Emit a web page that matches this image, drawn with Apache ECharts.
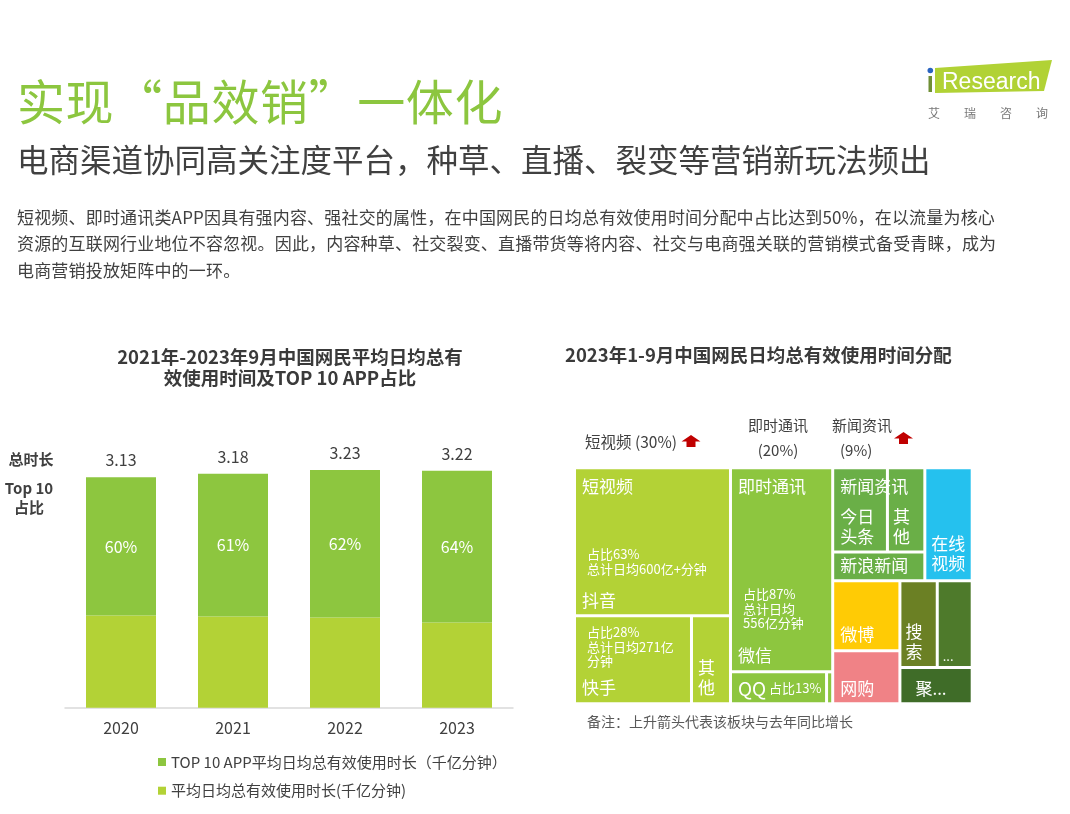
<!DOCTYPE html>
<html lang="zh-CN">
<head>
<meta charset="utf-8">
<script src="https://cdn.jsdelivr.net/npm/echarts@6/dist/echarts.min.js"></script>
<style>
html,body{margin:0;padding:0;background:#fff;width:1070px;height:814px;overflow:hidden;}
#chart{position:absolute;left:0;top:0;width:1070px;height:814px;}
.t{position:absolute;white-space:nowrap;font-family:"Noto Sans CJK SC","Noto Sans",sans-serif;z-index:2;}
.fw{font-feature-settings:"fwid";}
</style>
</head>
<body>
<div id="chart"></div>
<div class="t" style="left:17px;top:75px;font-size:48px;line-height:48px;letter-spacing:0.6px;color:#8cc63f;">实现<span class="fw">“</span>品效销<span class="fw">”</span>一体化</div>
<div class="t" style="left:17px;top:142.5px;font-size:31.5px;line-height:31.5px;color:#404040;">电商渠道协同高关注度平台，种草、直播、裂变等营销新玩法频出</div>
<div class="t" style="left:17px;top:203.5px;font-size:17px;line-height:26.7px;letter-spacing:0.18px;color:#404040;">短视频、即时通讯类APP因具有强内容、强社交的属性，在中国网民的日均总有效使用时间分配中占比达到50%，在以流量为核心<br>资源的互联网行业地位不容忽视。因此，内容种草、社交裂变、直播带货等将内容、社交与电商强关联的营销模式备受青睐，成为<br>电商营销投放矩阵中的一环。</div>
<script>
const FONT = '"Noto Sans CJK SC","Noto Sans",sans-serif';

// ---- bar chart data ----
const years = ['2020', '2021', '2022', '2023'];
const totalTime = [3.13, 3.18, 3.23, 3.22];      // 千亿分钟
const top10Share = [60, 61, 62, 64];              // %
const legendNames = ['TOP 10 APP平均日均总有效使用时长（千亿分钟）', '平均日均总有效使用时长(千亿分钟)'];

// ---- treemap data ----
const tmGroups = ['短视频', '即时通讯', '新闻资讯'];
const tmGroupShares = [30, 20, 9];
const leafNames = ['抖音', '快手', '其他', '微信', 'QQ', '其他', '今日头条', '其他', '新浪新闻', '在线视频', '微博', '网购', '搜索', '...', '聚...'];
const leafValues = [18.8, 8.4, 2.8, 17.0, 2.5, 0.16, 3.76, 2.57, 2.15, 4.36, 3.83, 2.91, 2.64, 2.47, 2.14];
const leafNotes = [
  ['占比63%', '总计日均600亿+分钟'],
  ['占比28%', '总计日均271亿', '分钟'],
  [],
  ['占比87%', '总计日均', '556亿分钟'],
  ['占比13%'],
  [], [], [], [], [], [], [], [], [], []
];
const footNote = '备注：上升箭头代表该板块与去年同比增长';

// ---- derived stack values ----
const top10Time = totalTime.map((v, i) => +(v * top10Share[i] / 100).toFixed(3));
const restTime = totalTime.map((v, i) => +(v - top10Time[i]).toFixed(3));

// ---- styles ----
const leafColors = ['#b3d236', '#b3d236', '#b3d236', '#8dc63f', '#8dc63f', '#8dc63f',
  '#6aaf47', '#6aaf47', '#6aaf47', '#25c1ee', '#ffcb05', '#f08286', '#6b8024', '#4e7a2b', '#3f6c28'];

const rich = {
  n: { fontSize: 17, lineHeight: 20, color: '#fff', fontFamily: FONT },
  s: { fontSize: 13, lineHeight: 14.5, color: '#fff', fontFamily: FONT, padding: [0, 0, 0, 5] },
  q: { fontSize: 19, lineHeight: 20, color: '#fff', fontFamily: FONT },
  t: { fontSize: 13, lineHeight: 20, color: '#fff', fontFamily: FONT },
  d: { fontSize: 13, lineHeight: 15, color: '#fff', fontFamily: FONT },
  g9: { fontSize: 8, lineHeight: 9 },
  g10: { fontSize: 8, lineHeight: 10.3 },
  g14: { fontSize: 8, lineHeight: 14 },
  g15: { fontSize: 8, lineHeight: 15.5 },
  g50: { fontSize: 8, lineHeight: 50.5 },
  g90: { fontSize: 8, lineHeight: 90.3 }
};
const chunk = (s, k) => s.match(new RegExp('.{1,' + k + '}', 'g'));
const nLines = arr => arr.map(x => '{n|' + x + '}').join('\n');
const sLines = arr => arr.map(x => '{s|' + x + '}').join('\n');

function labelFor(i) {
  const nm = leafNames[i], notes = leafNotes[i];
  let txt, pad;
  switch (i) {
    case 0: txt = '{n|' + tmGroups[0] + '}\n{g50| }\n' + sLines(notes) + '\n{g14| }\n{n|' + nm + '}'; pad = [7.4, 2, 0, 6]; break;
    case 1: txt = sLines(notes) + '\n{g9| }\n{n|' + nm + '}'; pad = [7.75, 2, 0, 6]; break;
    case 2: txt = nLines(chunk(nm, 1)); pad = [40, 0, 0, 5]; break;
    case 3: txt = '{n|' + tmGroups[1] + '}\n{g90| }\n' + sLines(notes) + '\n{g15| }\n{n|' + nm + '}'; pad = [7.4, 2, 0, 6]; break;
    case 4: txt = '{q|' + nm + '}{t| ' + notes[0] + '}'; pad = [5, 0, 0, 6]; break;
    case 5: return { show: false };
    case 6: txt = '{n|' + tmGroups[2] + '}\n{g10| }\n' + nLines(chunk(nm, 2)); pad = [7.4, 0, 0, 6]; break;
    case 7: txt = nLines(chunk(nm, 1)); pad = [37.4, 0, 0, 4]; break;
    case 8: txt = '{n|' + nm + '}'; pad = [2, 0, 0, 6]; break;
    case 9: txt = nLines(chunk(nm, 2)); pad = [64, 0, 0, 5]; break;
    case 10: txt = '{n|' + nm + '}'; pad = [42.3, 2, 0, 6]; break;
    case 11: txt = '{n|' + nm + '}'; pad = [26.3, 2, 0, 6]; break;
    case 12: txt = nLines(chunk(nm, 1)); pad = [39, 0, 0, 4]; break;
    case 13: txt = '{d|' + nm + '}'; pad = [66.5, 0, 0, 4]; break;
    case 14: txt = '{n|' + nm + '}'; pad = [9.3, 0, 0, 14]; break;
    default: txt = '{n|' + nm + '}'; pad = [2, 0, 0, 6];
  }
  return { show: true, formatter: () => txt, padding: pad };
}
function leaf(i) {
  return { name: leafNames[i], value: leafValues[i], itemStyle: { color: leafColors[i] }, label: labelFor(i) };
}
const EPS = 1e-6;
function spacer() { return { name: '', value: EPS, itemStyle: { color: 'rgba(0,0,0,0)' }, label: { show: false } }; }
function group(name, children) { return { name: name, children: children }; }

// hierarchy (unnamed groups only steer the squarified layout)
const gShort = group(tmGroups[0], [leaf(0), leaf(1), leaf(2)]);
const gIM = group(tmGroups[1], [leaf(3), leaf(4), leaf(5)]);
const gLeft = group('', [gShort, spacer(), gIM]);
const gToutiao = group('', [leaf(6), spacer(), leaf(7)]);
const gNews = group(tmGroups[2], [gToutiao, leaf(8)]);
const gRTop = group('', [gNews, spacer(), leaf(9)]);
const gWeibo = group('', [leaf(10), leaf(11)]);
const gSearch = group('', [leaf(12), leaf(13)]);
const gZ = group('', [gSearch, leaf(14)]);
const gRBot = group('', [gWeibo, spacer(), gZ]);
const gRight = group('', [gRTop, spacer(), gRBot]);
const treeData = [gLeft, gRight];

function arrow(cx, top) {
  return {
    type: 'polygon',
    shape: { points: [[cx, top], [cx + 9.5, top + 6.5], [cx + 4.5, top + 6.5], [cx + 4.5, top + 12], [cx - 4.5, top + 12], [cx - 4.5, top + 6.5], [cx - 9.5, top + 6.5]] },
    style: { fill: '#c00000' }
  };
}
function txt(x, y, text, font, fill, align) {
  return { type: 'text', x: x, y: y, style: { text: text, font: font, fill: fill, align: align || 'left', verticalAlign: 'middle', textAlign: align || 'left', textVerticalAlign: 'middle' } };
}
const F15 = '15px ' + FONT;
const B15 = 'bold 15px ' + FONT;
const TB = 'bold 18.5px ' + FONT;

const chart = echarts.init(document.getElementById('chart'), null, { renderer: 'canvas' });
chart.setOption({
  animation: false,
  backgroundColor: '#fff',
  grid: { left: 65, width: 448, top: 413.3, height: 294.4, containLabel: false },
  xAxis: {
    type: 'category', data: years,
    axisLine: { lineStyle: { color: '#d9d9d9', width: 1.5 } },
    axisTick: { show: false },
    axisLabel: { color: '#404040', fontSize: 16, fontFamily: FONT, margin: 12 }
  },
  yAxis: { type: 'value', min: 0, max: 4, show: false },
  legend: {
    orient: 'vertical', left: 158, top: 754.5, padding: 0,
    itemWidth: 8, itemHeight: 8, itemGap: 13.7, icon: 'rect', selectedMode: false,
    textStyle: { fontSize: 15, color: '#404040', fontFamily: FONT },
    data: legendNames
  },
  series: [
    {
      name: legendNames[1], type: 'bar', stack: 'total', data: restTime, barWidth: 70,
      itemStyle: { color: '#b3d236' }, silent: true
    },
    {
      name: legendNames[0], type: 'bar', stack: 'total', data: top10Time, barWidth: 70,
      itemStyle: { color: '#8dc63f' }, silent: true,
      label: { show: true, position: 'inside', color: '#fff', fontSize: 16, fontFamily: FONT, formatter: p => top10Share[p.dataIndex] + '%' }
    },
    {
      name: 'total', type: 'bar', stack: 'total', data: years.map(() => 0), barWidth: 70, silent: true,
      itemStyle: { color: 'rgba(0,0,0,0)' },
      label: { show: true, position: 'top', distance: 9, color: '#404040', fontSize: 16, fontFamily: FONT, formatter: p => totalTime[p.dataIndex].toFixed(2) }
    },
    {
      type: 'treemap',
      left: 576, top: 469.3, width: 394.7, height: 233,
      squareRatio: 1.6, sort: false, roam: false, nodeClick: false,
      breadcrumb: { show: false },
      silent: true,
      itemStyle: { borderWidth: 0, gapWidth: 3, borderColor: '#fff' },
      upperLabel: { show: false },
      label: {
        show: true, position: 'insideTopLeft', overflow: 'none',
        color: '#fff', fontSize: 17, lineHeight: 20, fontFamily: FONT, rich: rich
      },
      data: treeData
    }
  ],
  graphic: [
    // chart titles
    txt(290, 356.7, '2021年-2023年9月中国网民平均日均总有', TB, '#3a3a3a', 'center'),
    txt(290, 378.2, '效使用时间及TOP 10 APP占比', TB, '#3a3a3a', 'center'),
    txt(565, 355, '2023年1-9月中国网民日均总有效使用时间分配', TB, '#3a3a3a', 'left'),
    // bar chart row labels
    txt(31, 459, '总时长', B15, '#404040', 'center'),
    txt(29, 488, 'Top 10', B15, '#404040', 'center'),
    txt(29, 507, '占比', B15, '#404040', 'center'),
    // treemap headers
    txt(585, 442, tmGroups[0] + ' (' + tmGroupShares[0] + '%)', '15.5px ' + FONT, '#404040', 'left'),
    arrow(691, 435),
    txt(778, 425, tmGroups[1], F15, '#404040', 'center'),
    txt(778, 450, '(' + tmGroupShares[1] + '%)', F15, '#404040', 'center'),
    txt(832, 425, tmGroups[2], F15, '#404040', 'left'),
    txt(840, 450, '(' + tmGroupShares[2] + '%)', F15, '#404040', 'left'),
    arrow(903.5, 432),
    txt(587, 721.7, footNote, '14px ' + FONT, '#595959', 'left'),
    // logo
    { type: 'polygon', shape: { points: [[935, 68], [1052, 60], [1044, 91], [935, 93]] }, style: { fill: '#b1d235' } },
    { type: 'rect', shape: { x: 928.5, y: 76, width: 3.5, height: 16 }, style: { fill: '#6f8f35' } },
    { type: 'circle', shape: { cx: 930.3, cy: 70.5, r: 2.8 }, style: { fill: '#2a64c0' } },
    txt(942, 83, 'Research', '23px "Liberation Sans", Arial, sans-serif', '#fff', 'left'),
    txt(934, 113, '艾', '12px ' + FONT, '#777', 'center'),
    txt(970, 113, '瑞', '12px ' + FONT, '#777', 'center'),
    txt(1006, 113, '咨', '12px ' + FONT, '#777', 'center'),
    txt(1042, 113, '询', '12px ' + FONT, '#777', 'center')
  ]
});
</script>
</body>
</html>
